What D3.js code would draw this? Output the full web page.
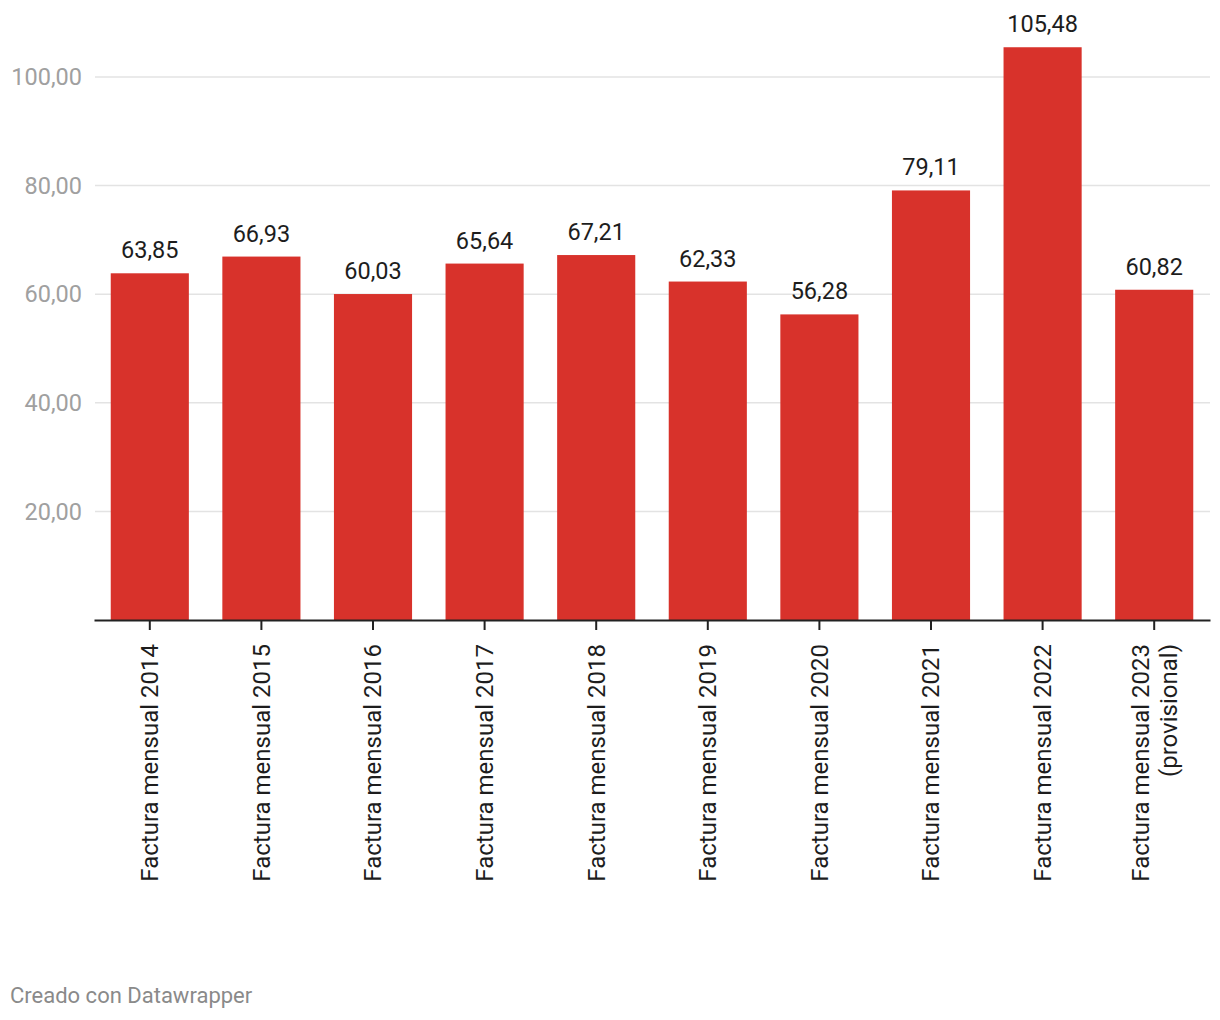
<!DOCTYPE html>
<html>
<head>
<meta charset="utf-8">
<script src="https://cdn.jsdelivr.net/npm/d3@7"></script>
<style>
  html, body { margin: 0; padding: 0; background: #fff; }
  svg { display: block; font-family: Roboto, "Noto Sans", sans-serif; }
</style>
</head>
<body>
<svg id="chart" width="1220" height="1020"></svg>
<script>
const categories = [
  "Factura mensual 2014", "Factura mensual 2015", "Factura mensual 2016",
  "Factura mensual 2017", "Factura mensual 2018", "Factura mensual 2019",
  "Factura mensual 2020", "Factura mensual 2021", "Factura mensual 2022",
  "Factura mensual 2023\n(provisional)"
];
const values = [63.85, 66.93, 60.03, 65.64, 67.21, 62.33, 56.28, 79.11, 105.48, 60.82];
const yTicks = [20, 40, 60, 80, 100];
const footer = "Creado con Datawrapper";

const svg = d3.select("#chart");
const baseY = 620;
const x = d3.scaleBand().domain(categories).range([94, 1210]).paddingInner(0.3).paddingOuter(0.15);
const y = d3.scaleLinear().domain([0, 100]).range([baseY, 77]);
const fmt = v => d3.format(".2f")(v).replace(".", ",");

// gridlines
svg.append("g").selectAll("line").data(yTicks).join("line")
  .attr("x1", 95).attr("x2", 1210)
  .attr("y1", d => y(d)).attr("y2", d => y(d))
  .attr("stroke", "#e3e3e3").attr("stroke-width", 1.5);

// y labels
svg.append("g").selectAll("text").data(yTicks).join("text")
  .attr("x", 82).attr("y", d => y(d)).attr("dy", "0.35em")
  .attr("text-anchor", "end").attr("font-size", 23.5).attr("fill", "#a0a0a0")
  .text(d => fmt(d));

// bars
svg.append("g").selectAll("rect").data(values).join("rect")
  .attr("x", (d, i) => x(categories[i]))
  .attr("width", x.bandwidth())
  .attr("y", d => y(d))
  .attr("height", d => baseY - y(d))
  .attr("fill", "#d8322b");

// value labels
svg.append("g").selectAll("text").data(values).join("text")
  .attr("x", (d, i) => x(categories[i]) + x.bandwidth() / 2)
  .attr("y", d => y(d) - 15)
  .attr("text-anchor", "middle").attr("font-size", 23.5).attr("fill", "#1d1d1d")
  .text(d => fmt(d));

// x axis
const xAxis = d3.axisBottom(x).tickSize(10).tickSizeOuter(0).tickFormat("");
const gx = svg.append("g").attr("transform", `translate(0,${baseY})`).call(xAxis);
gx.select(".domain").attr("stroke", "#222").attr("stroke-width", 2);
gx.selectAll(".tick line").attr("stroke", "#222").attr("stroke-width", 2);

// rotated labels
categories.forEach(c => {
  const lines = c.split("\n");
  const cx = x(c) + x.bandwidth() / 2;
  const lh = 28;
  const t = svg.append("text")
    .attr("transform", `translate(${cx},${baseY + 24}) rotate(-90)`)
    .attr("text-anchor", "end").attr("font-size", 24).attr("fill", "#1d1d1d");
  lines.forEach((l, i) => {
    const off = (i - (lines.length - 1) / 2) * lh;
    t.append("tspan").attr("x", 0).attr("y", off).attr("dy", "0.35em").text(l);
  });
});

svg.append("text").attr("x", 10).attr("y", 1003)
  .attr("font-size", 22).attr("fill", "#8a8a8a").text(footer);
</script>
</body>
</html>
